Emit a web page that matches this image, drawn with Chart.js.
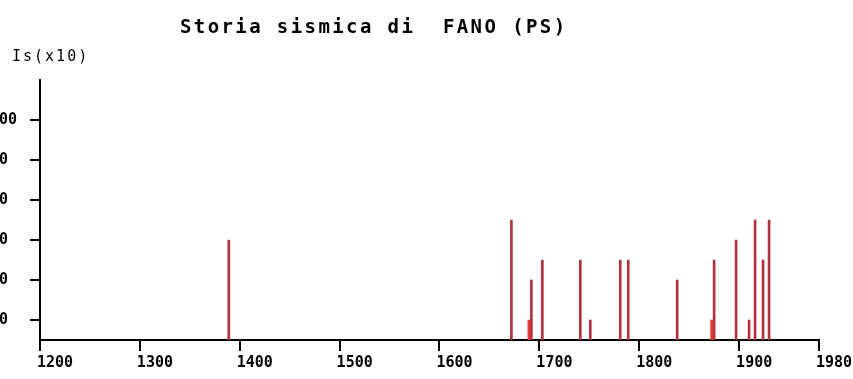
<!DOCTYPE html>
<html>
<head>
<meta charset="utf-8">
<script src="https://cdn.jsdelivr.net/npm/chart.js@4.4.0/dist/chart.umd.min.js"></script>
<style>
  html, body { margin: 0; padding: 0; background: #fff; overflow: hidden; }
  #wrap { position: relative; width: 853px; height: 379px; overflow: hidden; }
  #seismicChart { position: absolute; left: -10px; top: 0; }
</style>
</head>
<body>
<div id="wrap"><canvas id="seismicChart" width="900" height="379"></canvas></div>
<script>
// Felt earthquakes: year and site intensity (Is x10)
const eventYears = [1389, 1672, 1692, 1703, 1741, 1751, 1781, 1789, 1838, 1875, 1897, 1910, 1916, 1924, 1930];
const eventIs    = [70, 75, 60, 65, 65, 50, 65, 65, 60, 65, 70, 50, 75, 65, 75];
// Close-by lower intensity events
const minorYears = [1690, 1873];
const minorIs    = [50, 50];

const xTicks = [1200, 1300, 1400, 1500, 1600, 1700, 1800, 1900, 1980];
const yTicks = [50, 60, 70, 80, 90, 100];

const titleText = 'Storia sismica di  FANO (PS)';
const axisTitle = 'Is(x10)';

const toPoints = (xs, ys) => xs.map((x, i) => ({ x: x, y: ys[i] }));
const mono = '"DejaVu Sans Mono", "Liberation Mono", monospace';

// canvas sits 10px left of the page edge, so page x = canvas x - 10
const SHIFT = 10;

// title and y-axis caption are drawn straight on the canvas
const headings = {
    id: 'headings',
    afterDraw(chart) {
        const c = chart.ctx;
        c.save();
        c.fillStyle = '#000';
        c.textBaseline = 'alphabetic';
        c.textAlign = 'left';
        c.letterSpacing = '2.4px';
        c.font = 'bold 19px ' + mono;
        c.fillText(titleText, 180 + SHIFT, 33);
        c.letterSpacing = '2px';
        c.font = '15px ' + mono;
        c.fillText(axisTitle, 12 + SHIFT, 61);
        c.restore();
    }
};

new Chart(document.getElementById('seismicChart'), {
    type: 'bar',
    data: {
        datasets: [{
            data: toPoints(eventYears, eventIs),
            backgroundColor: '#b3323f',
            barThickness: 2,
            grouped: false
        }, {
            data: toPoints(minorYears, minorIs),
            backgroundColor: '#e63a34',
            barThickness: 3,
            grouped: false
        }]
    },
    options: {
        responsive: false,
        animation: false,
        layout: {
            padding: { top: 80, right: 71, left: 0, bottom: 0 }
        },
        plugins: {
            legend: { display: false },
            tooltip: { enabled: false },
            title: { display: false }
        },
        scales: {
            x: {
                type: 'linear',
                offset: false,
                min: 1200,
                max: 1980,
                afterBuildTicks: s => { s.ticks = xTicks.map(v => ({ value: v })); },
                afterFit: s => { s.height = 39; },
                border: { display: true, color: '#000', width: 2 },
                grid: {
                    offset: false,
                    drawOnChartArea: false,
                    drawTicks: true,
                    tickLength: 11,
                    color: '#000',
                    lineWidth: 2
                },
                ticks: {
                    autoSkip: false,
                    maxRotation: 0,
                    align: 'start',
                    labelOffset: -3,
                    padding: 3,
                    color: '#000',
                    callback: v => String(v),
                    font: { family: mono, weight: 'bold', size: 15 }
                }
            },
            y: {
                min: 45,
                max: 110,
                afterBuildTicks: s => { s.ticks = yTicks.map(v => ({ value: v })); },
                afterFit: s => { s.width = 40 + SHIFT; },
                border: { display: true, color: '#000', width: 2 },
                grid: {
                    drawOnChartArea: false,
                    drawTicks: true,
                    tickLength: 10,
                    color: '#000',
                    lineWidth: 2
                },
                ticks: {
                    crossAlign: 'far',
                    padding: 12,
                    color: '#000',
                    callback: v => String(v),
                    font: { family: mono, weight: 'bold', size: 15 }
                }
            }
        }
    },
    plugins: [headings]
});
</script>
</body>
</html>
